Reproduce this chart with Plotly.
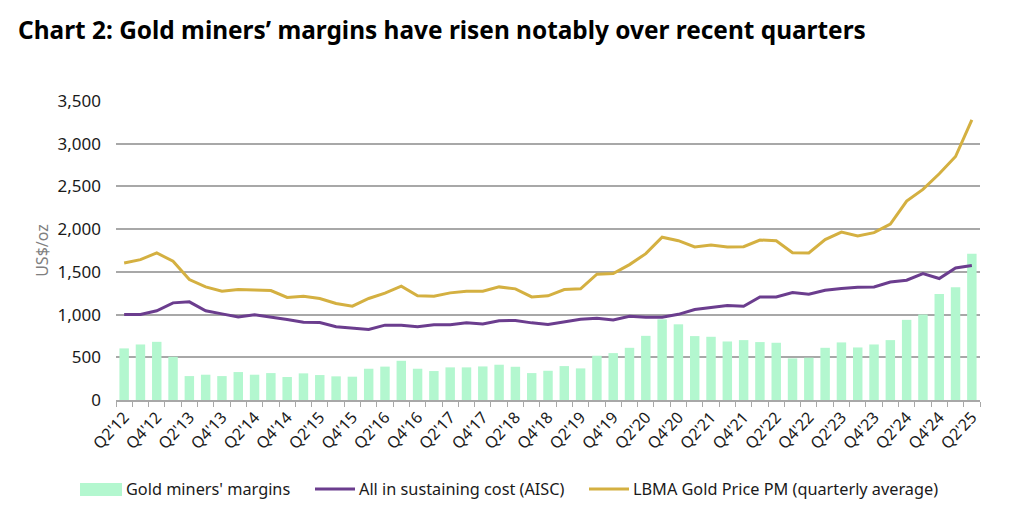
import plotly.graph_objects as go

quarters = []
for yr in range(12, 26):
    for q in range(1, 5):
        if (yr == 12 and q < 2) or (yr == 25 and q > 2):
            continue
        quarters.append(f"Q{q}'{yr:02d}")

margins = [604, 650, 681, 506, 280, 296, 280, 327, 296, 315, 269, 312, 292, 277, 273, 366,
           391, 459, 366, 339, 382, 382, 393, 413, 389, 315, 342, 397, 370, 518, 549, 611,
           751, 944, 886, 748, 740, 685, 701, 678, 670, 487, 495, 611, 674, 615, 650, 701,
           938, 1001, 1242, 1320, 1713]
gold = [1604, 1643, 1721, 1624, 1410, 1324, 1273, 1293, 1289, 1281, 1200, 1215, 1188, 1129, 1098, 1188,
        1250, 1332, 1219, 1215, 1254, 1273, 1273, 1324, 1301, 1207, 1219, 1293, 1301, 1472, 1480, 1585,
        1713, 1906, 1865, 1791, 1815, 1791, 1795, 1873, 1865, 1725, 1721, 1877, 1966, 1920, 1959, 2060,
        2329, 2465, 2648, 2850, 3279]
aisc = [1001, 1001, 1044, 1137, 1149, 1044, 1008, 973, 997, 973, 942, 911, 907, 857, 845, 826,
        876, 876, 857, 880, 880, 903, 891, 927, 931, 903, 884, 915, 946, 958, 938, 981,
        970, 968, 1003, 1060, 1087, 1106, 1098, 1207, 1207, 1258, 1238, 1285, 1305, 1320, 1324, 1382,
        1402, 1480, 1422, 1546, 1574]

series_names = ["Gold miners' margins", "All in sustaining cost (AISC)",
                "LBMA Gold Price PM (quarterly average)"]
tick_text = [q if i % 2 == 0 else "" for i, q in enumerate(quarters)]

FONT = "Noto Sans"
GREEN = "#b3f7cf"
PURPLE = "#6b3d8e"
GOLD = "#d4b041"
GRID = "#a8a8a8"
TXT = "#1a1a1a"

W, H = 1010, 505
ML, MR, MT, MB = 108, 38, 93, 113
PW, PH = W - ML - MR, H - MT - MB
OFF = 8  # page offset of the figure


def px(x):
    return (x - OFF - ML) / PW


def py(y):
    return (H - MB - (y - OFF)) / PH


fig = go.Figure()
fig.add_trace(go.Bar(x=quarters, y=margins, name=series_names[0], showlegend=False,
                     marker=dict(color=GREEN, line=dict(width=0))))
fig.add_trace(go.Scatter(x=quarters, y=aisc, name=series_names[1], showlegend=False,
                         mode="lines", line=dict(color=PURPLE, width=3)))
fig.add_trace(go.Scatter(x=quarters, y=gold, name=series_names[2], showlegend=False,
                         mode="lines", line=dict(color=GOLD, width=3)))

# custom legend (symbols + labels)
shapes = [
    dict(type="rect", xref="paper", yref="paper", x0=px(80), x1=px(122), y0=py(496), y1=py(483),
         fillcolor=GREEN, line=dict(width=0)),
    dict(type="line", xref="paper", yref="paper", x0=px(315), x1=px(355), y0=py(489), y1=py(489),
         line=dict(color=PURPLE, width=3)),
    dict(type="line", xref="paper", yref="paper", x0=px(589), x1=px(629), y0=py(489), y1=py(489),
         line=dict(color=GOLD, width=3)),
]
annotations = [
    dict(text=series_names[0], x=px(124), y=py(489)),
    dict(text=series_names[1], x=px(357), y=py(489)),
    dict(text=series_names[2], x=px(631), y=py(489)),
]
for a in annotations:
    a.update(xref="paper", yref="paper", xanchor="left", yanchor="middle", showarrow=False,
             font=dict(family=FONT, size=16.3, color=TXT))

fig.update_layout(
    width=W, height=H, autosize=False,
    margin=dict(l=ML, r=MR, t=MT, b=MB, autoexpand=False),
    paper_bgcolor="white", plot_bgcolor="white",
    font=dict(family=FONT, color=TXT),
    bargap=0.42,
    showlegend=False,
    title=dict(text="<b>Chart 2: Gold miners’ margins have risen notably over recent quarters</b>",
               x=0.01, xanchor="left", y=0.955, yanchor="middle",
               font=dict(family=FONT, size=24.4, color="#000000")),
    shapes=shapes,
    annotations=annotations,
)
fig.update_xaxes(
    type="category", tickmode="array", tickvals=quarters, ticktext=tick_text,
    tickson="boundaries", ticks="outside", ticklen=5, tickcolor=GRID, tickwidth=1,
    showline=True, linecolor=GRID, linewidth=1.5, showgrid=False,
    tickangle=-47, tickfont=dict(family=FONT, size=16, color=TXT),
    range=[-0.5, len(quarters) - 0.5], automargin=False,
)
fig.update_yaxes(
    range=[0, 3500], dtick=500, tickformat=",", showgrid=True, gridcolor=GRID, gridwidth=1.5,
    zeroline=False, ticks="", ticklabelstandoff=14, automargin=False,
    tickfont=dict(family=FONT, size=17, color=TXT),
    title=dict(text="US$/oz", font=dict(family=FONT, size=16, color="#808080"), standoff=4),
)

fig.write_html("out.html")
